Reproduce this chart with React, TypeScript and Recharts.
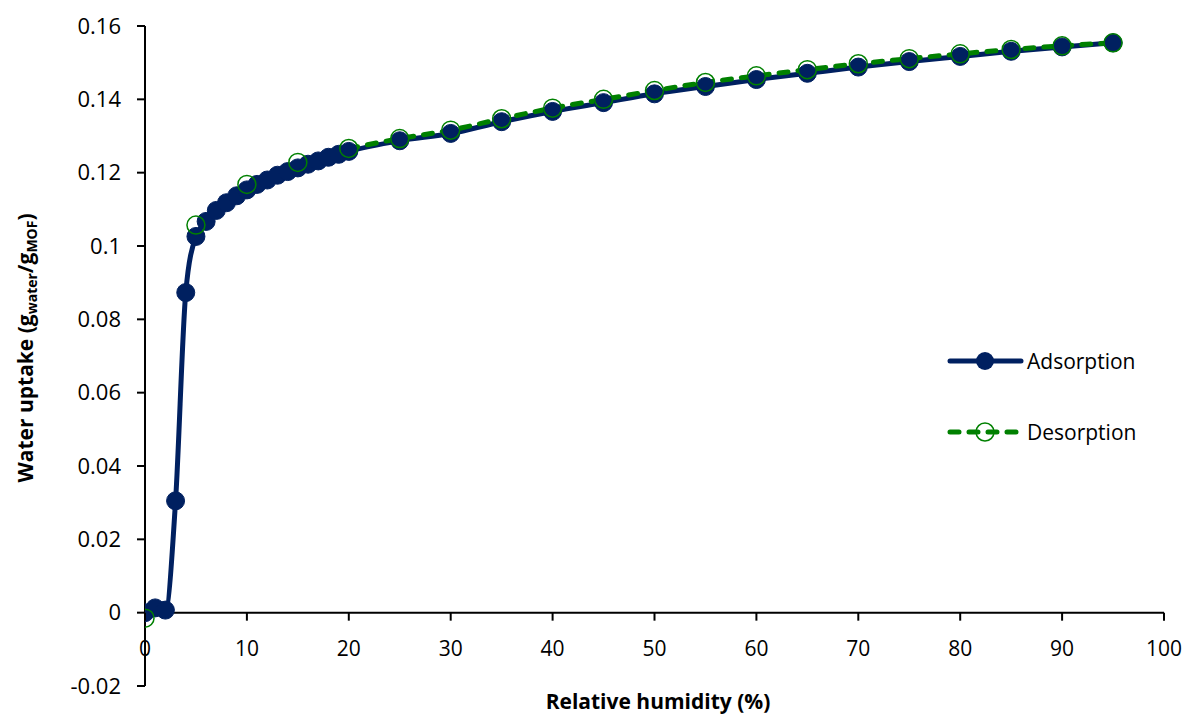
import React from "react";
import { LineChart, Line, XAxis, YAxis, ReferenceLine } from "recharts";

const adsorptionRH = [0, 1, 2, 3, 4, 5, 6, 7, 8, 9, 10, 11, 12, 13, 14, 15, 16, 17, 18, 19, 20, 25, 30, 35, 40, 45, 50, 55, 60, 65, 70, 75, 80, 85, 90, 95];
const adsorptionUptake = [0, 0.0013, 0.0007, 0.0305, 0.0873, 0.1026, 0.1067, 0.1097, 0.1118, 0.1137, 0.1153, 0.1168, 0.118, 0.1193, 0.1203, 0.1213, 0.1223, 0.1232, 0.1242, 0.125, 0.1258, 0.1287, 0.1307, 0.1339, 0.1367, 0.1391, 0.1415, 0.1435, 0.1454, 0.1471, 0.1488, 0.1503, 0.1517, 0.1531, 0.1543, 0.1554];

const desorptionRH = [0, 5, 10, 15, 20, 25, 30, 35, 40, 45, 50, 55, 60, 65, 70, 75, 80, 85, 90, 95];
const desorptionUptake = [-0.0015, 0.1057, 0.1168, 0.1228, 0.1266, 0.1293, 0.1316, 0.1347, 0.1376, 0.14, 0.1424, 0.1446, 0.1464, 0.1481, 0.1497, 0.1511, 0.1524, 0.1536, 0.1546, 0.1554];
const desorptionLineFrom = 20;

const xTicks = [0, 10, 20, 30, 40, 50, 60, 70, 80, 90, 100];
const yTicks = [-0.02, 0, 0.02, 0.04, 0.06, 0.08, 0.1, 0.12, 0.14, 0.16];

const NAVY = "#002060";
const GREEN = "#008000";
const FONT = "'Open Sans', sans-serif";

const W = 1190;
const H = 708;
const XAXIS_H = 30;
const M = { top: 18, right: 34, bottom: 0, left: 0 };
const YAXIS_W = 137;
const PLOT_H = H - M.top - M.bottom - XAXIS_H;
const Y_MIN = -0.02;
const Y_MAX = 0.16;
const ZERO_OFFSET = (PLOT_H * (0 - Y_MIN)) / (Y_MAX - Y_MIN);

const adsData = adsorptionRH.map((x, i) => ({ x, y: adsorptionUptake[i] }));
const desData = desorptionRH.map((x, i) => ({ x, y: desorptionUptake[i] }));
const desLineData = desData.filter((d) => d.x >= desorptionLineFrom);

const fmt = (v: number) => (v === 0 ? "0" : String(parseFloat(v.toFixed(2))));

const XTick = (props: any) => {
  const { x, y, payload } = props;
  const y0 = y - ZERO_OFFSET;
  return (
    <g>
      <line x1={x} x2={x} y1={y0} y2={y0 + 8} stroke="#000" strokeWidth={2} />
      <text x={x} y={y0 + 35} textAnchor="middle" dominantBaseline="central" fontFamily={FONT} fontSize={21} fill="#000">
        {payload.value}
      </text>
    </g>
  );
};

const AdsDot = (props: any) => {
  const { cx, cy } = props;
  if (cx == null || cy == null) return null;
  return <circle cx={cx} cy={cy} r={9} fill={NAVY} stroke={NAVY} strokeWidth={1} />;
};
const DesDot = (props: any) => {
  const { cx, cy } = props;
  if (cx == null || cy == null) return null;
  return <circle cx={cx} cy={cy} r={9} fill="none" stroke={GREEN} strokeWidth={1.5} />;
};

export default function App() {
  const lx = 942;
  return (
    <LineChart width={W} height={H} margin={M}>
      <XAxis
        type="number"
        dataKey="x"
        domain={[0, 100]}
        ticks={xTicks}
        axisLine={false}
        tickLine={false}
        tickSize={0}
        tickMargin={0}
        height={XAXIS_H}
        tick={<XTick />}
        interval={0}
        allowDataOverflow
      />
      <YAxis
        type="number"
        dataKey="y"
        domain={[Y_MIN, Y_MAX]}
        ticks={yTicks}
        width={YAXIS_W}
        axisLine={{ stroke: "#000", strokeWidth: 2 }}
        tickLine={{ stroke: "#000", strokeWidth: 2 }}
        tickSize={8}
        tickMargin={16}
        tickFormatter={fmt}
        tick={{ fill: "#000", fontFamily: FONT, fontSize: 22 }}
        interval={0}
        allowDataOverflow
      />
      <ReferenceLine y={0} stroke="#000" strokeWidth={2} />
      <Line
        data={adsData}
        dataKey="y"
        type="monotoneX"
        stroke={NAVY}
        strokeWidth={5}
        dot={<AdsDot />}
        activeDot={false}
        isAnimationActive={false}
      />
      <Line
        data={desLineData}
        dataKey="y"
        type="monotoneX"
        stroke={GREEN}
        strokeWidth={5}
        strokeDasharray="9 10"
        strokeLinecap="round"
        dot={false}
        activeDot={false}
        isAnimationActive={false}
      />
      <Line
        data={desData}
        dataKey="y"
        stroke="none"
        dot={<DesDot />}
        activeDot={false}
        isAnimationActive={false}
      />
      <text
        transform={`translate(17, 340) rotate(-90)`}
        textAnchor="middle"
        dominantBaseline="central"
        fontFamily={FONT}
        fontSize={21}
        fontWeight="bold"
        fill="#000"
      >
        Water uptake (g
        <tspan fontSize={14} dy={6}>water</tspan>
        <tspan dy={-6}>/g</tspan>
        <tspan fontSize={14} dy={6}>MOF</tspan>
        <tspan dy={-6}>)</tspan>
      </text>
      <text x={650} y={693} textAnchor="middle" dominantBaseline="central" fontFamily={FONT} fontSize={21} fontWeight="bold" fill="#000">
        Relative humidity (%)
      </text>
      <g>
        <line x1={lx} x2={lx + 71} y1={353} y2={353} stroke={NAVY} strokeWidth={5} strokeLinecap="round" />
        <circle cx={lx + 35} cy={353} r={9} fill={NAVY} />
        <text x={lx + 77} y={353} dominantBaseline="central" fontFamily={FONT} fontSize={21} fill="#000">Adsorption</text>
        <line x1={lx} x2={lx + 71} y1={424} y2={424} stroke={GREEN} strokeWidth={5} strokeDasharray="9 10" strokeLinecap="round" />
        <circle cx={lx + 35} cy={424} r={9} fill="none" stroke={GREEN} strokeWidth={1.5} />
        <text x={lx + 77} y={424} dominantBaseline="central" fontFamily={FONT} fontSize={21} fill="#000">Desorption</text>
      </g>
    </LineChart>
  );
}
